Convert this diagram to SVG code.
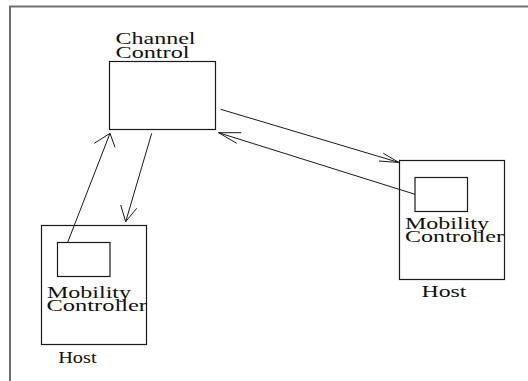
<svg xmlns="http://www.w3.org/2000/svg" width="528" height="381" viewBox="0 0 528 381">
  <style>
    .frame { fill: none; stroke: #707070; stroke-width: 2; }
    .box { fill: none; stroke: #1a1a1a; stroke-width: 1.2; }
    .wire { fill: none; stroke: #1a1a1a; stroke-width: 1; }
    .label { font-family: "Liberation Serif", "Times New Roman", serif; font-size: 16px; fill: #111; }
  </style>
  <rect width="528" height="381" fill="#ffffff"/>
  <!-- page frame (top and left edges) -->
  <path class="frame" d="M10,381 V6.5 H528"/>

  <g id="channel-control">
    <rect class="box" x="109.5" y="61.5" width="106" height="68"/>
    <text class="label" x="115.5" y="44.3" textLength="80" lengthAdjust="spacingAndGlyphs">Channel</text>
    <text class="label" x="115.5" y="58.3" textLength="74" lengthAdjust="spacingAndGlyphs">Control</text>
  </g>

  <g id="host-left">
    <rect class="box" x="41.5" y="225.5" width="105" height="119"/>
    <text class="label" x="58.2" y="362.7" textLength="38.4" lengthAdjust="spacingAndGlyphs">Host</text>
  </g>
  <g id="mobility-controller-left">
    <rect class="box" x="57.5" y="242.5" width="52.5" height="34"/>
    <text class="label" x="47" y="297.7" textLength="84" lengthAdjust="spacingAndGlyphs">Mobility</text>
    <text class="label" x="46.5" y="311" textLength="100.5" lengthAdjust="spacingAndGlyphs">Controller</text>
  </g>

  <g id="host-right">
    <rect class="box" x="399.5" y="160.5" width="105" height="119"/>
    <text class="label" x="421.5" y="296.7" textLength="45" lengthAdjust="spacingAndGlyphs">Host</text>
  </g>
  <g id="mobility-controller-right">
    <rect class="box" x="415" y="177.5" width="52.5" height="34"/>
    <text class="label" x="405" y="229.3" textLength="84" lengthAdjust="spacingAndGlyphs">Mobility</text>
    <text class="label" x="405" y="242.3" textLength="99" lengthAdjust="spacingAndGlyphs">Controller</text>
  </g>

  <g id="connectors">
    <!-- left controller up to channel control -->
    <path class="wire" d="M67.7,242.3 L110,133.3"/>
    <path class="wire" d="M94.3,143.3 L110,133.3 L115,147.3"/>
    <!-- channel control down to left host -->
    <path class="wire" d="M151.7,133.3 L125.7,221.7"/>
    <path class="wire" d="M120.7,205 L125.7,221.7 L136.7,208.3"/>
    <!-- channel control to right host -->
    <path class="wire" d="M220.7,109.3 L399,162.5"/>
    <path class="wire" d="M383.3,153.3 L399,162.5 L379,161"/>
    <!-- right controller back to channel control -->
    <path class="wire" d="M415,194.3 L218.5,132.7"/>
    <path class="wire" d="M241.3,132.7 L218.5,132.7 L236.7,143.3"/>
  </g>
</svg>
